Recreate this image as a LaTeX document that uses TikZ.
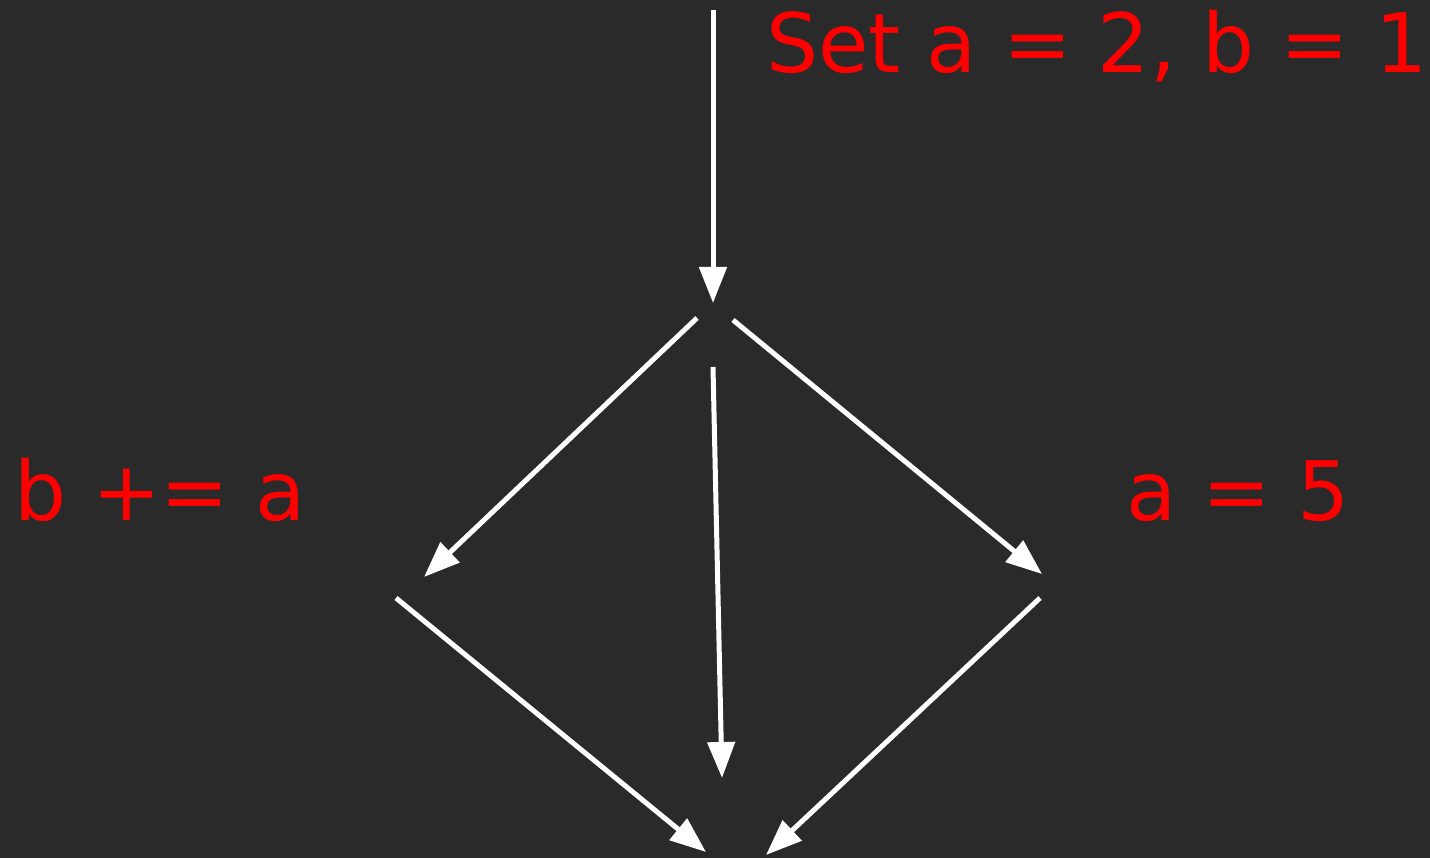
\documentclass[tikz,border=0pt]{standalone}
\usepackage{fontspec}
\setmainfont{DejaVu Sans}
\usetikzlibrary{arrows.meta}
\definecolor{bgdark}{HTML}{2A2A2A}
\definecolor{labelred}{HTML}{FF0000}
\begin{document}
\begin{tikzpicture}[x=1pt,y=-1pt,
  flow/.style={draw=white,line width=5pt,-{Triangle[length=36pt,width=27pt]}},
  lbl/.style={text=labelred,inner sep=0pt,anchor=base west,font=\fontsize{82}{90}\selectfont}]
  \fill[bgdark] (0,0) rectangle (1430,858);
  \useasboundingbox (0,0) rectangle (1430,858);
  % entry and split
  \coordinate (entry) at (713,10);
  \coordinate (splitIn) at (713,303);
  \coordinate (splitL) at (697,318);
  \coordinate (splitR) at (733,320);
  \coordinate (splitB) at (713,367);
  % branches
  \coordinate (leftIn) at (424,577);
  \coordinate (leftOut) at (396,598);
  \coordinate (rightIn) at (1042,574);
  \coordinate (rightOut) at (1040,598);
  % join
  \coordinate (joinL) at (706,852);
  \coordinate (joinM) at (722,778);
  \coordinate (joinR) at (766,855);
  \draw[flow] (entry) -- (splitIn);
  \draw[flow] (splitL) -- (leftIn);
  \draw[flow] (splitR) -- (rightIn);
  \draw[flow] (splitB) -- (joinM);
  \draw[flow] (leftOut) -- (joinL);
  \draw[flow] (rightOut) -- (joinR);
  % labels
  \node[lbl] (setlbl) at (766,73) {Set a = 2, b = 1};
  \node[lbl] (blbl) at (14,520) {b += a};
  \node[lbl] (albl) at (1126,520) {a = 5};
\end{tikzpicture}
\end{document}
